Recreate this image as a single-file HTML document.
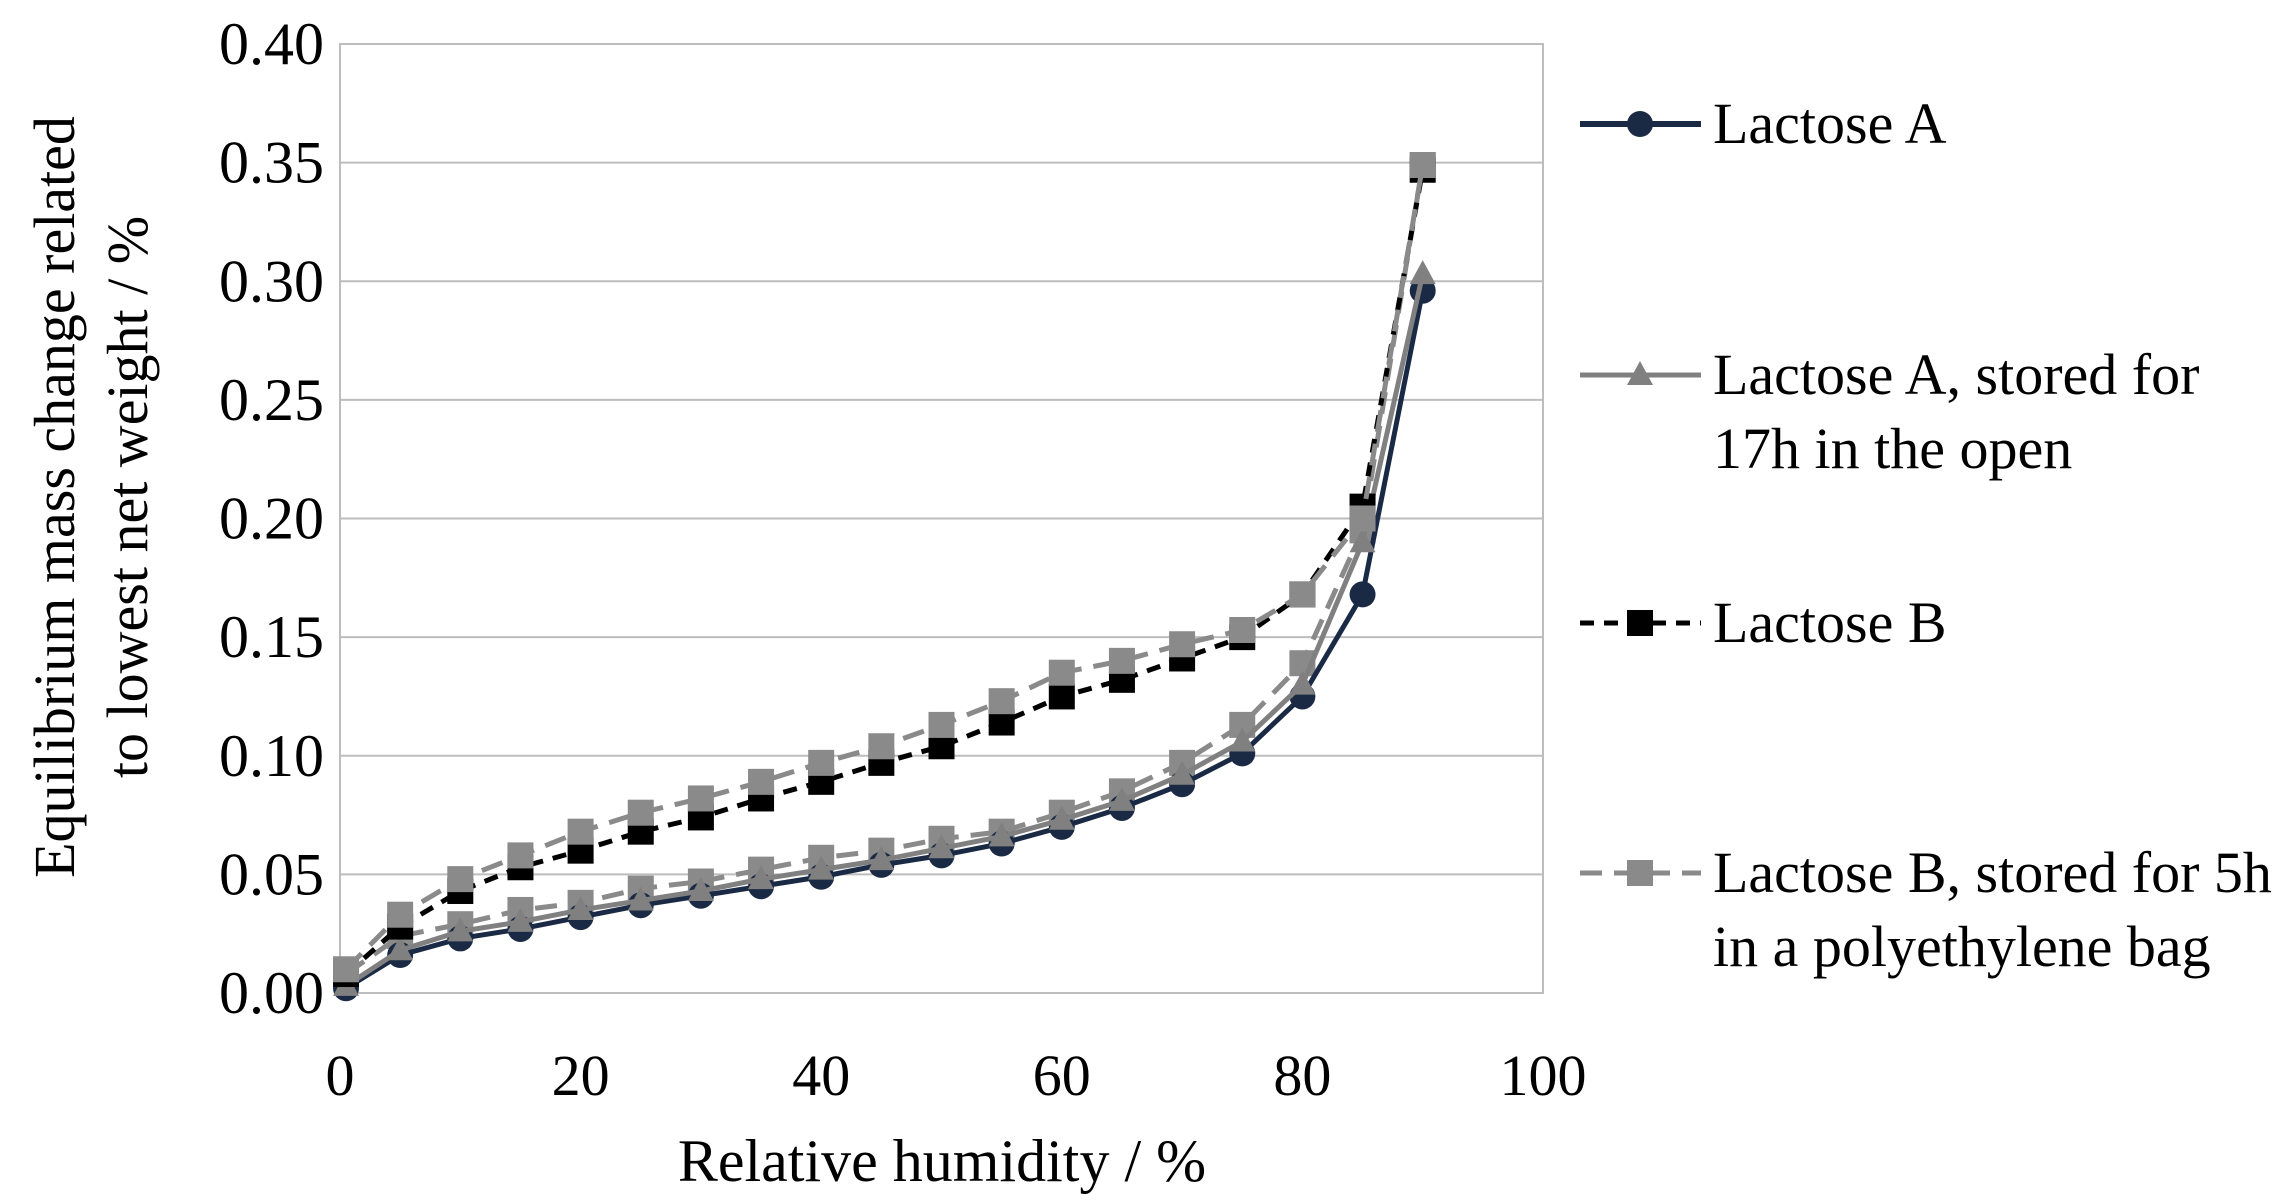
<!DOCTYPE html>
<html><head><meta charset="utf-8">
<style>
html,body{margin:0;padding:0;background:#fff;}
svg{display:block;font-family:"Liberation Serif",serif;}
</style></head>
<body>
<svg id="chart" width="2289" height="1203">
<g id="grid"></g>
<rect x="340" y="44" width="1203" height="949" fill="none" stroke="#bdbdbd" stroke-width="2"/>
<g id="yticks"></g>
<g id="xticks"></g>
<g id="series"></g>
<text x="74" y="497" font-size="58" text-anchor="middle" transform="rotate(-90 74 497)">Equilibrium mass change related</text>
<text x="147" y="497" font-size="58" text-anchor="middle" transform="rotate(-90 147 497)">to lowest net weight / %</text>
<text x="942" y="1181" font-size="60" text-anchor="middle">Relative humidity / %</text>
<g id="legend"></g>
</svg>
<script>
const xValues=[0.5,5,10,15,20,25,30,35,40,45,50,55,60,65,70,75,80,85,90];
const lactoseA=[0.002,0.016,0.023,0.027,0.032,0.037,0.041,0.045,0.049,0.054,0.058,0.063,0.070,0.078,0.088,0.101,0.125,0.168,0.296];
const lactoseAStored=[0.003,0.018,0.026,0.030,0.035,0.039,0.043,0.048,0.052,0.056,0.061,0.066,0.073,0.081,0.092,0.106,0.130,0.190,0.303];
const lactoseB=[0.008,0.028,0.043,0.053,0.060,0.068,0.074,0.082,0.089,0.097,0.104,0.114,0.125,0.132,0.141,0.150,0.168,0.205,0.347];
const lactoseBStored=[0.010,0.033,0.048,0.058,0.068,0.076,0.082,0.089,0.097,0.104,0.113,0.123,0.135,0.140,0.147,0.153,0.168,0.200,0.349];
const lactoseBStoredLower=[0.008,0.024,0.029,0.035,0.038,0.044,0.047,0.052,0.057,0.060,0.065,0.068,0.076,0.085,0.097,0.113,0.139,0.195,0.349];
const yTicks=["0.00","0.05","0.10","0.15","0.20","0.25","0.30","0.35","0.40"];
const xTicks=[0,20,40,60,80,100];
const NS="http://www.w3.org/2000/svg";
const X0=340,X1=1543,Y0=993,Y1=44;
function sx(v){return X0+(v/100)*(X1-X0);}
function sy(v){return Y0-(v/0.4)*(Y0-Y1);}
function mk(tag,attrs,parent){const e=document.createElementNS(NS,tag);for(const k in attrs)e.setAttribute(k,attrs[k]);parent.appendChild(e);return e;}
const grid=document.getElementById('grid'),yt=document.getElementById('yticks'),xt=document.getElementById('xticks');
yTicks.forEach(t=>{const v=parseFloat(t);const y=sy(v);
 const l=mk('line',{x1:X0,x2:X1,y1:y,y2:y,stroke:'#bdbdbd','stroke-width':2},grid);
 
 
 const tx=mk('text',{x:324,y:y+20,'font-size':60,'text-anchor':'end'},yt);tx.textContent=t;
 
 
});
xTicks.forEach(t=>{const tx=mk('text',{x:sx(t),y:1095,'font-size':58,'text-anchor':'middle'},xt);tx.textContent=t;
 
 
});
function marker(g,type,x,y,color){let e;
 if(type==='circle')e=mk('circle',{cx:x,cy:y,r:13,fill:color},g);
 else if(type==='square')e=mk('rect',{x:x-13,y:y-13,width:26,height:26,fill:color},g);
 else e=mk('polygon',{points:`${x},${y-14} ${x+13},${y+10} ${x-13},${y+10}`,fill:color},g);
 return e;}
const ser=document.getElementById('series');
const defs=[
 {name:'lactose-b-stored-lower',vals:lactoseBStoredLower,color:'#8a8a8a',dash:'22 12',m:'square'},
 {name:'lactose-a',vals:lactoseA,color:'#1a2a45',dash:'',m:'circle'},
 {name:'lactose-a-stored',vals:lactoseAStored,color:'#808080',dash:'',m:'triangle'},
 {name:'lactose-b',vals:lactoseB,color:'#000',dash:'14 10',m:'square'},
 {name:'lactose-b-stored',vals:lactoseBStored,color:'#8a8a8a',dash:'22 12',m:'square'}];
defs.forEach(d=>{const g=mk('g',{},ser);
 
 
 const pts=xValues.map((x,i)=>sx(x)+','+sy(d.vals[i])).join(' ');
 const pl=mk('polyline',{points:pts,fill:'none',stroke:d.color,'stroke-width':5,'stroke-dasharray':d.dash},g);
 
 
 xValues.forEach((x,i)=>{const e=marker(g,d.m,sx(x),sy(d.vals[i]),d.color);
  
  });
});
const leg=document.getElementById('legend');
const legItems=[
 {lines:['Lactose A'],color:'#1a2a45',dash:'',m:'circle',y:124,w:6},
 {lines:['Lactose A, stored for','17h in the open'],color:'#808080',dash:'',m:'triangle',y:375,w:5},
 {lines:['Lactose B'],color:'#000',dash:'14 10',m:'square',y:623,w:5},
 {lines:['Lactose B, stored for 5h','in a polyethylene bag'],color:'#8a8a8a',dash:'22 12',m:'square',y:873,w:5}];
legItems.forEach((it,i)=>{const g=mk('g',{},leg);
 
 
 mk('line',{x1:1580,x2:1701,y1:it.y,y2:it.y,stroke:it.color,'stroke-width':it.w,'stroke-dasharray':it.dash},g);
 marker(g,it.m,1640,it.y,it.color);
 it.lines.forEach((s,j)=>{const t=mk('text',{x:1713,y:it.y+19+j*74,'font-size':58},g);t.textContent=s;});
});
</script>
</body></html>
